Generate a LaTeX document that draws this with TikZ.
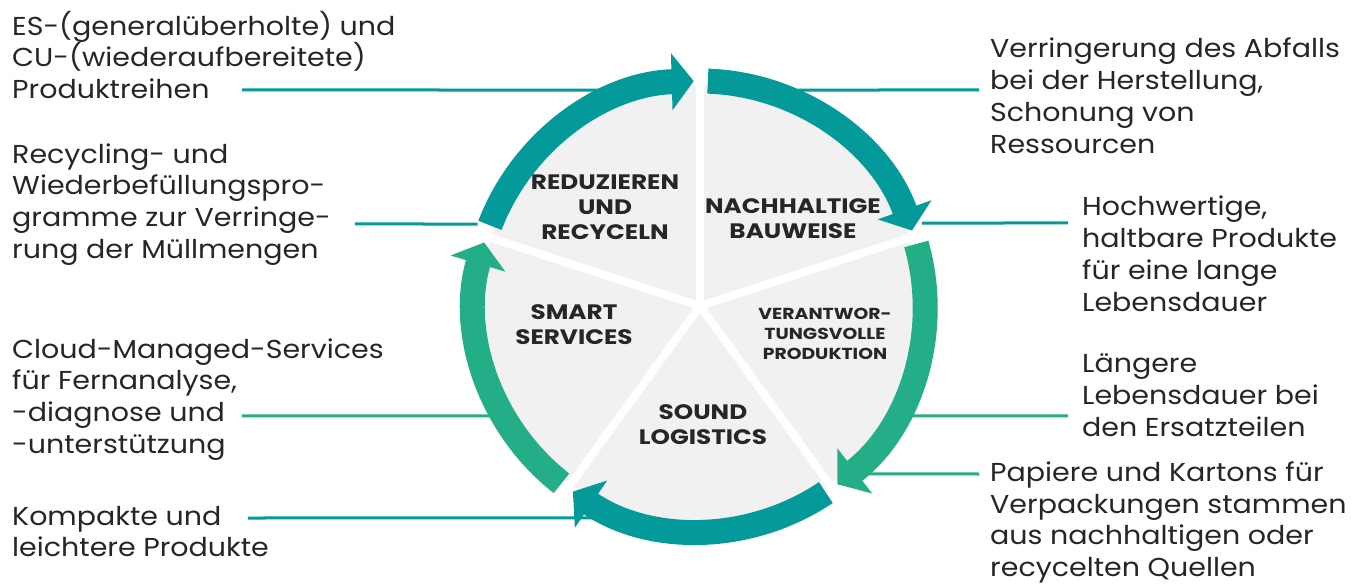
\documentclass[tikz,border=0pt]{standalone}
\usepackage{fontspec}
\setmainfont{Poppins}[FakeStretch=1.1, BoldFeatures={FakeStretch=1.18}]
\usetikzlibrary{arrows.meta}
\definecolor{tealring}{HTML}{049A9A}
\definecolor{greenring}{HTML}{24AE87}
\definecolor{piegray}{HTML}{F1F1F1}
\definecolor{ink}{HTML}{262626}

\begin{document}
\begin{tikzpicture}[x=1bp, y=1bp,
            note/.style={anchor=west, align=left, inner sep=0pt, text=ink, font=\fontsize{26}{32}\selectfont},
            sector/.style={align=center, inner sep=0pt, text=ink, font=\bfseries\fontsize{21}{25}\selectfont},
            ring/.style={line width=25bp, -{Triangle[length=22bp, width=56bp]}},
            link/.style={line width=3bp}]
            \useasboundingbox (-700,-278) rectangle (671,306);
            \coordinate (c) at (0,0);

            % pie with white dividers
            \fill[piegray] (c) circle (220);
            \foreach \a in {90,18,-54,-126,162}
                \draw[white, line width=8bp] (c) -- (\a:242);

            % sector titles
            \node[sector] (reduzieren) at (-95,99) {REDUZIEREN\\UND\\RECYCELN};
            \node[sector] (bauweise) at (93,87) {NACHHALTIGE\\BAUWEISE};
            \node[sector, font=\bfseries\fontsize{16}{20}\selectfont] (produktion) at (125,-28) {VERANTWOR-\\TUNGSVOLLE\\PRODUKTION};
            \node[sector] (services) at (-126,-19) {SMART\\SERVICES};
            \node[sector] (logistics) at (3,-119) {SOUND\\LOGISTICS};

            % side notes
            \node[note] (produkt) at (-688,251) {ES-(generalüberholte) und\\CU-(wiederaufbereitete)\\Produktreihen};
            \node[note] (recycling) at (-688,101.5) {Recycling- und\\Wiederbefüllungspro-\\gramme zur Verringe-\\rung der Müllmengen};
            \node[note] (cloud) at (-688,-93.5) {Cloud-Managed-Services\\für Fernanalyse,\\-diagnose und\\-unterstützung};
            \node[note] (kompakt) at (-688,-225.5) {Kompakte und\\leichtere Produkte};
            \node[note] (abfall) at (290,210.5) {Verringerung des Abfalls\\bei der Herstellung,\\Schonung von\\Ressourcen};
            \node[note] (hochwertig) at (382,52.5) {Hochwertige,\\haltbare Produkte\\für eine lange\\Lebensdauer};
            \node[note] (ersatz) at (382,-89) {Längere\\Lebensdauer bei\\den Ersatzteilen};
            \node[note] (papier) at (290,-216.5) {Papiere und Kartons für\\Verpackungen stammen\\aus nachhaltigen oder\\recycelten Quellen};

            % connector ends
            \coordinate (produkt-a) at (-458,216);
            \coordinate (produkt-b) at ({180-asin(216/237)}:237);
            \coordinate (recycling-a) at (-345,82);
            \coordinate (recycling-b) at ({180-asin(82/237)}:237);
            \coordinate (cloud-a) at (-458,-110);
            \coordinate (cloud-b) at ({180+asin(110/237)}:237);
            \coordinate (kompakt-a) at (-452,-212);
            \coordinate (kompakt-b) at ({180+asin(212/237)}:237);
            \coordinate (abfall-a) at (279,216);
            \coordinate (abfall-b) at ({asin(216/237)}:237);
            \coordinate (hochwertig-a) at (368,83);
            \coordinate (hochwertig-b) at ({asin(83/237)}:237);
            \coordinate (ersatz-a) at (368,-110);
            \coordinate (ersatz-b) at ({-asin(110/237)}:237);
            \coordinate (papier-a) at (279,-168);
            \coordinate (papier-b) at ({-asin(168/237)}:237);

            \draw[link, tealring] (produkt-a) -- (produkt-b);
            \draw[link, tealring] (recycling-a) -- (recycling-b);
            \draw[link, greenring] (cloud-a) -- (cloud-b);
            \draw[link, tealring] (kompakt-a) -- (kompakt-b);
            \draw[link, tealring] (abfall-a) -- (abfall-b);
            \draw[link, tealring] (hochwertig-a) -- (hochwertig-b);
            \draw[link, greenring] (ersatz-a) -- (ersatz-b);
            \draw[link, greenring] (papier-a) -- (papier-b);

            % cycle arrows, clockwise
            \draw[ring, tealring] (159:225) arc[start angle=159, end angle=91.6, radius=225];
            \draw[ring, tealring] (88:225) arc[start angle=88, end angle=19.6, radius=225];
            \draw[ring, greenring] (16:225) arc[start angle=16, end angle=-52.4, radius=225];
            \draw[ring, tealring] (-56:225) arc[start angle=-56, end angle=-124.4, radius=225];
            \draw[ring, greenring] (-128:225) arc[start angle=-128, end angle=-196.4, radius=225];
        \end{tikzpicture}
\end{document}
